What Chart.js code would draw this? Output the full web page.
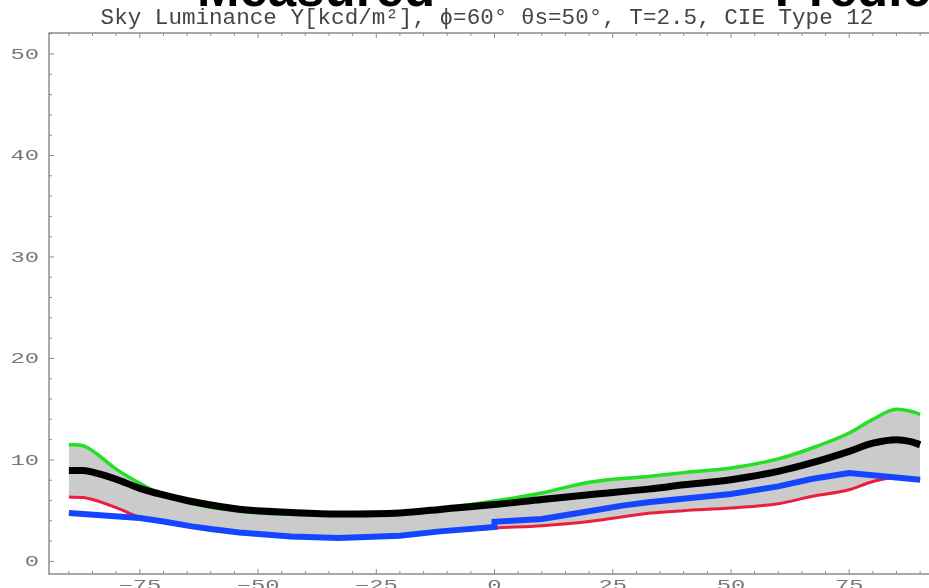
<!DOCTYPE html>
<html>
<head>
<meta charset="utf-8">
<script src="https://cdn.jsdelivr.net/npm/chart.js@4/dist/chart.umd.min.js"></script>
<style>
  html, body { margin: 0; padding: 0; background: #fff; }
  #wrap { width: 929px; height: 588px; overflow: hidden; position: relative; }
  #skyChart { display: block; }
</style>
</head>
<body>
<div id="wrap"><canvas id="skyChart" width="960" height="610"></canvas></div>
<script>
// viewing angle along the meridian (deg)
const angle = [-90, -87, -85, -80, -75, -70, -64, -54, -43, -33, -20, -10, 0, 10, 20, 33, 40, 50, 60, 67, 75, 80, 85, 88, 90];

// upper / lower bounds of the band and the fitted curve, kcd/m2
const upperY = [11.5, 11.4, 10.9, 9.1, 7.7, 6.5, 5.7, 4.95, 4.65, 4.55, 4.7, 5.3, 5.95, 6.75, 7.8, 8.4, 8.75, 9.2, 10.1, 11.15, 12.65, 14.0, 15.0, 14.8, 14.5];
const fitY   = [8.97, 8.95, 8.8, 8.1, 7.2, 6.55, 5.9, 5.15, 4.83, 4.67, 4.77, 5.2, 5.6, 6.1, 6.57, 7.15, 7.55, 8.05, 8.87, 9.7, 10.85, 11.65, 12.0, 11.8, 11.5];
const lowerY = [6.34, 6.3, 6.1, 5.3, 4.35, 3.9, 3.4, 2.82, 2.42, 2.27, 2.5, 2.95, 3.28, 3.52, 3.94, 4.77, 5.0, 5.26, 5.68, 6.4, 7.06, 7.88, 8.28, 8.1, 8.0];

// measured luminance, sampled at its own angles (jump at zero)
const measAngle = [-90, -75, -70, -64, -60, -54, -43, -33, -20, -11.5, 0, 0, 10, 20, 27, 33, 50, 60, 67, 75, 90];
const measY     = [4.77, 4.27, 3.94, 3.45, 3.2, 2.86, 2.46, 2.3, 2.53, 2.96, 3.4, 3.9, 4.18, 4.95, 5.5, 5.85, 6.64, 7.39, 8.12, 8.71, 8.05];

const xTicks = [-75, -50, -25, 0, 25, 50, 75];
const yTicks = [0, 10, 20, 30, 40, 50];

const titleText = "Sky Luminance Y[kcd/m²], ϕ=60° θs=50°, T=2.5, CIE Type 12";
const headings = ["Measured", "Predicted"];

function pts(xs, ys) {
  return xs.map((x, i) => ({ x: x, y: ys[i] }));
}

function fmt(v) {
  return String(v).replace("-", "\u2212");
}

// tick labels are stretched sideways like the old plot font
function wideText(ctx, text, x, y) {
  ctx.save();
  ctx.translate(x, y);
  ctx.scale(1.7, 1);
  ctx.fillText(text, 0, 0);
  ctx.restore();
}

// frame with inward ticks, tick labels and titles
const framePlugin = {
  id: "frame",
  afterDraw(chart) {
    const ctx = chart.ctx;
    const a = chart.chartArea;
    const xs = chart.scales.x;
    const ys = chart.scales.y;
    ctx.save();
    ctx.strokeStyle = "#8c8c8c";
    ctx.lineWidth = 1.5;
    ctx.strokeRect(a.left, a.top, a.right - a.left, a.bottom - a.top);

    ctx.lineWidth = 1;
    for (let v = -90; v <= 90; v += 5) {
      const px = xs.getPixelForValue(v);
      const len = v % 25 === 0 ? 5 : 3;
      ctx.beginPath();
      ctx.moveTo(px, a.bottom);
      ctx.lineTo(px, a.bottom - len);
      ctx.moveTo(px, a.top);
      ctx.lineTo(px, a.top + len);
      ctx.stroke();
    }
    for (let v = 0; v <= 52; v += 2) {
      const py = ys.getPixelForValue(v);
      const len = v % 10 === 0 ? 5 : 3;
      ctx.beginPath();
      ctx.moveTo(a.left, py);
      ctx.lineTo(a.left + len, py);
      ctx.moveTo(a.right, py);
      ctx.lineTo(a.right - len, py);
      ctx.stroke();
    }

    ctx.fillStyle = "#777";
    ctx.font = "14px 'Liberation Mono'";
    ctx.textBaseline = "alphabetic";
    ctx.textAlign = "right";
    yTicks.forEach((v) => {
      wideText(ctx, fmt(v), a.left - 10, ys.getPixelForValue(v) + 5);
    });
    ctx.textAlign = "center";
    xTicks.forEach((v) => {
      wideText(ctx, fmt(v), xs.getPixelForValue(v), a.bottom + 16);
    });

    ctx.fillStyle = "#444";
    ctx.font = "22.6px 'Liberation Mono'";
    ctx.fillText(titleText, 487, 24);

    ctx.fillStyle = "#000";
    ctx.font = "bold 51px 'Liberation Sans'";
    ctx.fillText(headings[0], 316, 6);
    ctx.fillText(headings[1], 891, 6);
    ctx.restore();
  }
};

const ctx = document.getElementById("skyChart").getContext("2d");

new Chart(ctx, {
  type: "line",
  data: {
    datasets: [
      {
        label: "fit",
        data: pts(angle, fitY),
        borderColor: "#000000",
        borderWidth: 7,
        cubicInterpolationMode: "monotone",
        pointRadius: 0,
        fill: false,
      },
      {
        label: "measured",
        data: pts(measAngle, measY),
        borderColor: "#1446ff",
        borderWidth: 6,
        tension: 0,
        pointRadius: 0,
        fill: false,
      },
      {
        label: "upper",
        data: pts(angle, upperY),
        borderColor: "#22e022",
        borderWidth: 3.5,
        cubicInterpolationMode: "monotone",
        pointRadius: 0,
        backgroundColor: "#cbcbcb",
        fill: "+1",
      },
      {
        label: "lower",
        data: pts(angle, lowerY),
        borderColor: "#ec1e3c",
        borderWidth: 3,
        cubicInterpolationMode: "monotone",
        pointRadius: 0,
        fill: false,
      },
    ],
  },
  options: {
    responsive: false,
    animation: false,
    devicePixelRatio: 1,
    layout: { padding: { left: 49, top: 33, right: 20, bottom: 36 } },
    scales: {
      x: { type: "linear", min: -94.2, max: 94.2, display: false },
      y: { type: "linear", min: -1.24, max: 52.07, display: false },
    },
    plugins: {
      legend: { display: false },
      title: { display: false },
      tooltip: { enabled: false },
      filler: { drawTime: "beforeDatasetsDraw" },
    },
  },
  plugins: [framePlugin],
});
</script>
</body>
</html>
